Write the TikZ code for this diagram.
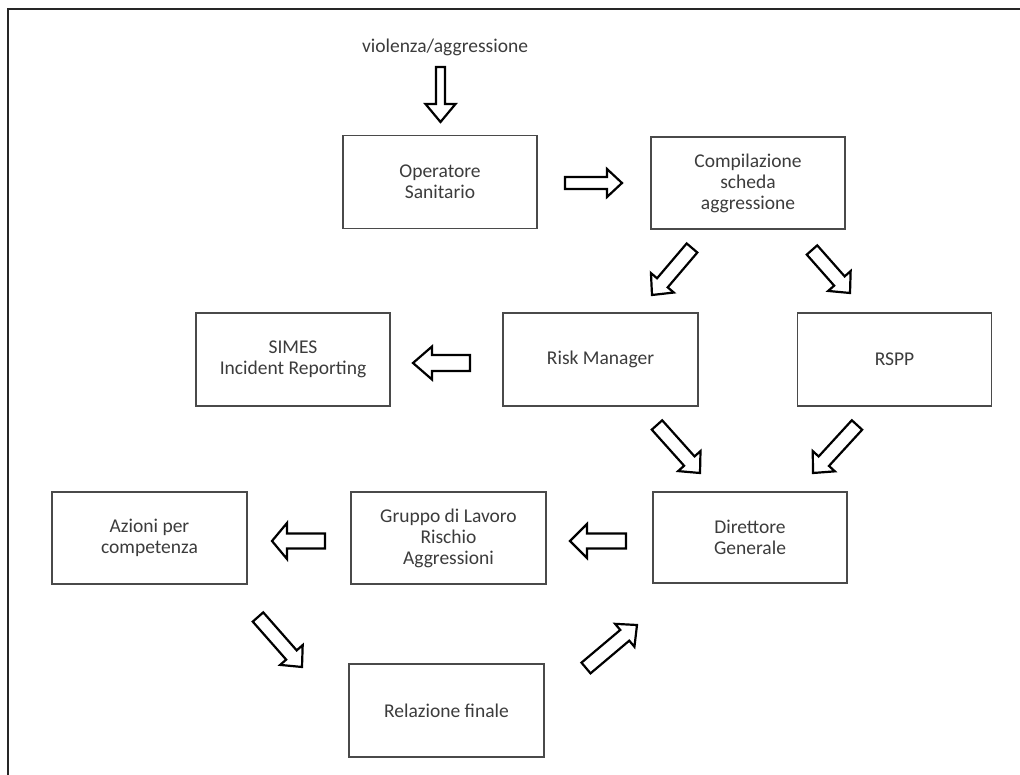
\documentclass[tikz,border=0pt]{standalone}
\usepackage{fontspec}
\setmainfont{Carlito}
\usetikzlibrary{calc}
\definecolor{txt}{HTML}{3C3C3C}
\definecolor{boxline}{HTML}{4A4A4A}
\newcommand\barrow[5]{%
  \coordinate (H) at ($(#2)!#5!(#1)$);
  \draw[blockarrow] ($(#1)!#3!90:(#2)$) -- ($(H)!#3!-90:(#1)$) -- ($(H)!#4!-90:(#1)$) -- (#2)
    -- ($(H)!#4!90:(#1)$) -- ($(H)!#3!90:(#1)$) -- ($(#1)!#3!-90:(#2)$) -- cycle;}
\tikzset{
  box/.style={draw=boxline, line width=1.2pt, minimum width=194pt, minimum height=93pt,
    inner sep=0pt, align=center, text=txt, font=\fontsize{19.5}{21}\selectfont},
  blockarrow/.style={draw=black, fill=white, line width=2.2pt, line join=miter},
  frame/.style={draw=black!85, line width=2.5pt},
  lbl/.style={text=txt, font=\fontsize{19.5}{21}\selectfont, inner sep=0pt}
}
\begin{document}
\begin{tikzpicture}[x=1pt,y=-1pt]
\useasboundingbox (0,0) rectangle (1020,775);
\fill[white] (0,0) rectangle (1020,775);
\draw[frame] (8,776) -- (8,9) -- (1021,9);

\node[lbl, anchor=base] (viol) at (445,53) {violenza/aggressione};
\node[box] (op) at (440,182) {Operatore\\Sanitario};
\node[box, minimum height=92pt] (comp) at (748,183) {Compilazione\\scheda\\aggressione};
\node[box] (simes) at (293,359.5) {SIMES\\Incident Reporting};
\node[box, minimum width=195pt] (risk) at (600.5,359.5) {Risk Manager};
\node[box] (rspp) at (894.5,359.5) {RSPP};
\node[box, minimum width=195pt, minimum height=92pt] (az) at (149.5,538) {Azioni per\\competenza};
\node[box, minimum width=195pt, minimum height=92pt] (gr) at (448.5,538) {Gruppo di Lavoro\\Rischio\\Aggressioni};
\node[box, minimum height=91pt] (dir) at (750,537.5) {Direttore\\Generale};
\node[box, minimum width=195pt] (rel) at (446.5,710.5) {Relazione finale};

\coordinate (a1s) at (440.5,67);  \coordinate (a1e) at (440.5,122);
\coordinate (a2s) at (565,183);   \coordinate (a2e) at (622,183);
\coordinate (a3s) at (692,248);   \coordinate (a3e) at (652,295);
\coordinate (a4s) at (812,250);   \coordinate (a4e) at (850,293);
\coordinate (a5s) at (470,363);   \coordinate (a5e) at (413,363);
\coordinate (a6s) at (657,425);   \coordinate (a6e) at (700,473);
\coordinate (a7s) at (857,425);   \coordinate (a7e) at (813,473);
\coordinate (a8s) at (626,541);   \coordinate (a8e) at (570,541);
\coordinate (a9s) at (325,541);   \coordinate (a9e) at (272,541);
\coordinate (a10s) at (258,617);  \coordinate (a10e) at (302,667);
\coordinate (a11s) at (586,668);  \coordinate (a11e) at (637,625);

\barrow{a1s}{a1e}{4.5pt}{15pt}{18pt}
\barrow{a2s}{a2e}{6pt}{14pt}{15pt}
\barrow{a3s}{a3e}{7pt}{15pt}{16pt}
\barrow{a4s}{a4e}{7pt}{15pt}{16pt}
\barrow{a5s}{a5e}{8pt}{16.5pt}{19pt}
\barrow{a6s}{a6e}{7pt}{15pt}{16pt}
\barrow{a7s}{a7e}{7pt}{15pt}{16pt}
\barrow{a8s}{a8e}{7.5pt}{17pt}{17pt}
\barrow{a9s}{a9e}{7.5pt}{18pt}{15pt}
\barrow{a10s}{a10e}{7pt}{15pt}{16pt}
\barrow{a11s}{a11e}{7pt}{15pt}{16pt}
\end{tikzpicture}
\end{document}
